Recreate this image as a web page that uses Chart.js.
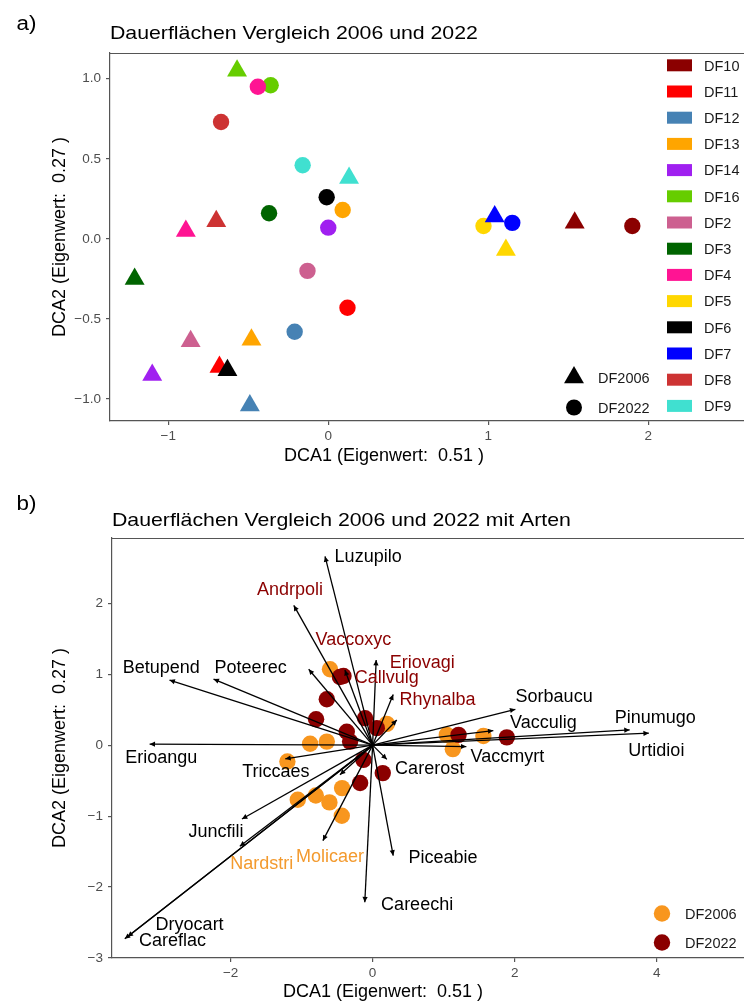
<!DOCTYPE html>
<html>
<head>
<meta charset="utf-8">
<script src="https://cdn.jsdelivr.net/npm/chart.js@4.4.1/dist/chart.umd.min.js"></script>
<style>
  html, body { margin: 0; padding: 0; background: #ffffff; }
  body { width: 744px; height: 1004px; overflow: hidden; position: relative; }
  canvas { position: absolute; left: 0; }
  #chartA { top: 0; }
  #chartB { top: 480px; }
</style>
</head>
<body>
<canvas id="chartA" width="744" height="480"></canvas>
<canvas id="chartB" width="744" height="524"></canvas>
<script>
// ---- Permanent plots (Dauerflächen), DCA site scores ----
const sites = ['DF10', 'DF11', 'DF12', 'DF13', 'DF14', 'DF16', 'DF2', 'DF3', 'DF4', 'DF5', 'DF6', 'DF7', 'DF8', 'DF9'];
const siteColors = ['#8B0000', '#FF0000', '#4682B4', '#FFA500', '#A020F0', '#66CD00', '#CD6090', '#006400', '#FF1493', '#FFD700', '#000000', '#0000FF', '#CD3333', '#40E0D0'];
const dca1_2006 = [1.54, -0.68, -0.49, -0.48, -1.10, -0.57, -0.86, -1.21, -0.89, 1.11, -0.63, 1.04, -0.70, 0.13];
const dca2_2006 = [0.10, -0.80, -1.04, -0.63, -0.85, 1.05, -0.64, -0.25, 0.05, -0.07, -0.82, 0.14, 0.11, 0.38];
const dca1_2022 = [1.90, 0.12, -0.21, 0.09, 0.00, -0.36, -0.13, -0.37, -0.44, 0.97, -0.01, 1.15, -0.67, -0.16];
const dca2_2022 = [0.08, -0.43, -0.58, 0.18, 0.07, 0.96, -0.20, 0.16, 0.95, 0.08, 0.26, 0.10, 0.73, 0.46];
const years = ['DF2006', 'DF2022'];

// ---- Site scores shown together with the species ----
const sp_dca1_2006 = [-0.60, -0.88, -0.645, -1.20, 0.20, 1.045, 1.13, 1.56, -1.054, -0.80, -0.608, -0.43, -0.434];
const sp_dca2_2006 = [1.07, 0.02, 0.05, -0.23, 0.30, 0.145, -0.056, 0.13, -0.77, -0.71, -0.807, -0.605, -0.994];
const sp_dca1_2022 = [-0.46, -0.41, -0.645, -0.796, -0.364, -0.317, -0.106, 0.059, -0.13, -0.176, 0.143, 1.21, 1.89];
const sp_dca2_2022 = [0.96, 0.975, 0.647, 0.366, 0.19, 0.05, 0.38, 0.24, -0.207, -0.534, -0.394, 0.145, 0.11];

// ---- Species vectors (arrow tips) and their label anchors ----
const species = ['Luzupilo', 'Andrpoli', 'Vaccoxyc', 'Callvulg', 'Eriovagi', 'Rhynalba', 'Sorbaucu', 'Vacculig', 'Pinumugo', 'Urtidioi', 'Vaccmyrt', 'Carerost', 'Piceabie', 'Careechi', 'Betupend', 'Poteerec', 'Erioangu', 'Triccaes', 'Juncfili', 'Nardstri', 'Molicaer', 'Dryocart', 'Careflac', '', ''];
const speciesDca1 = [-0.67, -1.11, -0.90, -0.39, 0.05, 0.29, 2.01, 1.70, 3.62, 3.89, 1.32, 0.20, 0.29, -0.11, -2.86, -2.24, -3.14, -1.23, -1.84, -1.87, -0.70, -3.45, -3.49, -0.46, 0.34];
const speciesDca2 = [2.66, 1.97, 1.07, 1.06, 1.20, 0.715, 0.506, 0.205, 0.215, 0.169, -0.02, -0.20, -1.557, -2.214, 0.918, 0.932, 0.014, -0.193, -1.041, -1.426, -1.346, -2.70, -2.729, -0.418, 0.355];
const speciesGroup = [0, 1, 1, 1, 1, 1, 0, 0, 0, 0, 0, 0, 0, 0, 0, 0, 0, 0, 0, 2, 2, 0, 0, 0, 0];
const labelDca1 = [-0.063, -1.162, -0.27, 0.20, 0.70, 0.915, 2.556, 2.406, 3.979, 3.996, 1.897, 0.803, 0.99, 0.627, -2.976, -1.718, -2.975, -1.362, -2.207, -1.561, -0.599, -2.577, -2.817, 0, 0];
const labelDca2 = [2.672, 2.204, 1.50, 0.962, 1.173, 0.657, 0.705, 0.329, 0.408, -0.06, -0.15, -0.319, -1.571, -2.239, 1.111, 1.111, -0.158, -0.361, -1.21, -1.66, -1.55, -2.513, -2.743, 0, 0];

// ---- Axis ticks ----
const xTicksA = [-1, 0, 1, 2];
const xTickLabelsA = ['\u22121', '0', '1', '2'];
const yTicksA = [-1, -0.5, 0, 0.5, 1];
const yTickLabelsA = ['\u22121.0', '\u22120.5', '0.0', '0.5', '1.0'];
const xTicksB = [-2, 0, 2, 4];
const xTickLabelsB = ['\u22122', '0', '2', '4'];
const yTicksB = [-3, -2, -1, 0, 1, 2];
const yTickLabelsB = ['\u22123', '\u22122', '\u22121', '0', '1', '2'];

const FONT = "'Liberation Sans', Arial, sans-serif";
const AXIS_COLOR = '#555555';
const TICK_TEXT = '#4D4D4D';
const ORANGE = '#F8961E';
const DARKRED = '#8B0000';
const groupColors = ['#000000', DARKRED, '#F39A2E'];

function drawText(ctx, text, x, y, o) {
  ctx.save();
  ctx.font = o.font;
  ctx.fillStyle = o.color || '#000';
  ctx.textBaseline = 'alphabetic';
  ctx.textAlign = o.align || 'left';
  ctx.translate(x, y);
  if (o.rotate) ctx.rotate(o.rotate);
  ctx.scale(o.sx || 1, 1);
  ctx.fillText(text, 0, 0);
  ctx.restore();
}

// Panel frame: tag, title, axis titles and the upper border line
const panelFrame = {
  id: 'panelFrame',
  afterDraw(chart, args, o) {
    const ctx = chart.ctx, a = chart.chartArea;
    ctx.save();
    ctx.strokeStyle = AXIS_COLOR;
    ctx.lineWidth = 1.2;
    ctx.beginPath();
    ctx.moveTo(a.left, a.top + 0.5);
    ctx.lineTo(a.right, a.top + 0.5);
    ctx.stroke();
    ctx.restore();
    drawText(ctx, o.tag, o.tagX, o.tagY, { font: '20px ' + FONT, sx: 1.12 });
    drawText(ctx, o.title, a.left, o.titleY, { font: '18.5px ' + FONT, sx: 1.15 });
    drawText(ctx, o.xTitle, o.xTitleX, o.xTitleY, { font: '18px ' + FONT, align: 'center' });
    drawText(ctx, o.yTitle, o.yTitleX, (a.top + a.bottom) / 2, { font: '18px ' + FONT, align: 'center', rotate: -Math.PI / 2 });
  }
};

// Legends drawn inside the plotting area
const siteLegend = {
  id: 'siteLegend',
  afterDraw(chart, args, o) {
    if (!o.enabled) return;
    const ctx = chart.ctx, a = chart.chartArea;
    sites.forEach((s, i) => {
      const cy = a.top + o.firstRow + i * o.rowGap;
      ctx.fillStyle = siteColors[i];
      ctx.fillRect(o.keyX, cy - 6, 25, 12);
      drawText(ctx, s, o.keyX + 37, cy + 5.2, { font: '14.5px ' + FONT, color: '#1A1A1A' });
    });
    years.forEach((label, i) => {
      const cy = a.top + o.shapeRow + i * 30;
      ctx.fillStyle = '#000';
      ctx.beginPath();
      if (i === 0) {
        const r = 11.5;
        ctx.moveTo(o.shapeX, cy - r);
        ctx.lineTo(o.shapeX + r * Math.sin(2 * Math.PI / 3), cy + r / 2);
        ctx.lineTo(o.shapeX - r * Math.sin(2 * Math.PI / 3), cy + r / 2);
        ctx.closePath();
      } else {
        ctx.arc(o.shapeX, cy, 8, 0, Math.PI * 2);
      }
      ctx.fill();
      drawText(ctx, label, o.shapeX + 24, cy + 5.2, { font: '14.5px ' + FONT, color: '#1A1A1A' });
    });
  }
};

const yearLegend = {
  id: 'yearLegend',
  afterDraw(chart, args, o) {
    if (!o.enabled) return;
    const ctx = chart.ctx, a = chart.chartArea;
    [ORANGE, DARKRED].forEach((c, i) => {
      const cy = a.top + o.firstRow + i * 29;
      ctx.fillStyle = c;
      ctx.beginPath();
      ctx.arc(o.x, cy, 8.2, 0, Math.PI * 2);
      ctx.fill();
      drawText(ctx, years[i], o.x + 23, cy + 5.2, { font: '14.5px ' + FONT, color: '#1A1A1A' });
    });
  }
};

// Arrow heads and species names for the vector datasets
const speciesArrows = {
  id: 'speciesArrows',
  afterDatasetsDraw(chart, args, o) {
    if (!o.enabled) return;
    const ctx = chart.ctx, xs = chart.scales.x, ys = chart.scales.y;
    const ox = xs.getPixelForValue(0), oy = ys.getPixelForValue(0);
    species.forEach((name, i) => {
      const tx = xs.getPixelForValue(speciesDca1[i]);
      const ty = ys.getPixelForValue(speciesDca2[i]);
      const ang = Math.atan2(ty - oy, tx - ox);
      const len = 6, half = 0.45;
      ctx.save();
      ctx.fillStyle = '#000';
      ctx.beginPath();
      ctx.moveTo(tx, ty);
      ctx.lineTo(tx - len * Math.cos(ang - half), ty - len * Math.sin(ang - half));
      ctx.lineTo(tx - len * Math.cos(ang + half), ty - len * Math.sin(ang + half));
      ctx.closePath();
      ctx.fill();
      ctx.restore();
      if (name) {
        const lx = xs.getPixelForValue(labelDca1[i]);
        const ly = ys.getPixelForValue(labelDca2[i]);
        drawText(ctx, name, lx, ly + 6.4, { font: '18px ' + FONT, align: 'center', color: groupColors[speciesGroup[i]] });
      }
    });
  }
};

function axisOptions(min, max, tickValues, tickLabels, fitSize, isX) {
  return {
    type: 'linear',
    min: min,
    max: max,
    afterBuildTicks(scale) { scale.ticks = tickValues.map(v => ({ value: v })); },
    afterFit(scale) {
      if (isX) scale.height = fitSize; else scale.width = fitSize;
      scale.paddingLeft = 0; scale.paddingRight = 0;
      scale.paddingTop = 0; scale.paddingBottom = 0;
    },
    ticks: {
      font: { family: FONT, size: 13.5 },
      color: TICK_TEXT,
      padding: isX ? 3 : 5,
      callback: (v, i) => tickLabels[i]
    },
    grid: { display: true, drawOnChartArea: false, drawTicks: true, tickLength: 4, color: AXIS_COLOR, lineWidth: 1.2 },
    border: { display: true, color: AXIS_COLOR, width: 1.2 }
  };
}

// ---- Panel a ----
const siteRows = [];
sites.forEach((s, i) => {
  siteRows.push({ x: dca1_2006[i], y: dca2_2006[i], site: i, year: 0 });
  siteRows.push({ x: dca1_2022[i], y: dca2_2022[i], site: i, year: 1 });
});

new Chart(document.getElementById('chartA'), {
  type: 'scatter',
  data: {
    datasets: [{
      label: 'Dauerflächen',
      data: siteRows,
      pointStyle: c => (c.raw && c.raw.year === 0 ? 'triangle' : 'circle'),
      pointRadius: c => (c.raw && c.raw.year === 0 ? 11.5 : 8.2),
      pointHoverRadius: c => (c.raw && c.raw.year === 0 ? 11.5 : 8.2),
      backgroundColor: c => (c.raw ? siteColors[c.raw.site] : '#000'),
      borderWidth: 0
    }]
  },
  options: {
    responsive: false,
    animation: false,
    devicePixelRatio: 1,
    events: [],
    layout: { autoPadding: false, padding: { top: 53, right: 0, bottom: 0, left: 0 } },
    plugins: {
      legend: { display: false },
      tooltip: { enabled: false },
      panelFrame: {
        tag: 'a)', tagX: 16.5, tagY: 29.5,
        title: 'Dauerflächen Vergleich 2006 und 2022', titleY: 39,
        xTitle: 'DCA1 (Eigenwert:  0.51 )', xTitleX: 384, xTitleY: 460.5,
        yTitle: 'DCA2 (Eigenwert:  0.27 )', yTitleX: 65
      },
      siteLegend: { enabled: true, keyX: 667, firstRow: 12.3, rowGap: 26.2, shapeX: 574, shapeRow: 324.5 },
      yearLegend: { enabled: false },
      speciesArrows: { enabled: false }
    },
    scales: {
      x: axisOptions(-1.364, 2.598, xTicksA, xTickLabelsA, 59, true),
      y: axisOptions(-1.1375, 1.161, yTicksA, yTickLabelsA, 110, false)
    }
  },
  plugins: [panelFrame, siteLegend, yearLegend, speciesArrows]
});

// ---- Panel b ----
const pts2006 = sp_dca1_2006.map((v, i) => ({ x: v, y: sp_dca2_2006[i] }));
const pts2022 = sp_dca1_2022.map((v, i) => ({ x: v, y: sp_dca2_2022[i] }));
const vectorSets = species.map((name, i) => ({
  type: 'line',
  label: name,
  data: [{ x: 0, y: 0 }, { x: speciesDca1[i], y: speciesDca2[i] }],
  borderColor: '#000000',
  borderWidth: 1.3,
  pointRadius: 0,
  fill: false,
  order: 0
}));

new Chart(document.getElementById('chartB'), {
  type: 'scatter',
  data: {
    datasets: [
      { label: years[0], data: pts2006, pointStyle: 'circle', pointRadius: 8.2, pointHoverRadius: 8.2, backgroundColor: ORANGE, borderWidth: 0, order: 2 },
      { label: years[1], data: pts2022, pointStyle: 'circle', pointRadius: 8.2, pointHoverRadius: 8.2, backgroundColor: DARKRED, borderWidth: 0, order: 1 }
    ].concat(vectorSets)
  },
  options: {
    responsive: false,
    animation: false,
    devicePixelRatio: 1,
    events: [],
    layout: { autoPadding: false, padding: { top: 58, right: 0, bottom: 0, left: 0 } },
    plugins: {
      legend: { display: false },
      tooltip: { enabled: false },
      panelFrame: {
        tag: 'b)', tagX: 16.5, tagY: 30,
        title: 'Dauerflächen Vergleich 2006 und 2022 mit Arten', titleY: 46,
        xTitle: 'DCA1 (Eigenwert:  0.51 )', xTitleX: 383, xTitleY: 517,
        yTitle: 'DCA2 (Eigenwert:  0.27 )', yTitleX: 65
      },
      siteLegend: { enabled: false },
      yearLegend: { enabled: true, x: 662, firstRow: 375.5 },
      speciesArrows: { enabled: true }
    },
    scales: {
      x: axisOptions(-3.67, 5.23, xTicksB, xTickLabelsB, 46, true),
      y: axisOptions(-3.0, 2.92, yTicksB, yTickLabelsB, 112, false)
    }
  },
  plugins: [panelFrame, siteLegend, yearLegend, speciesArrows]
});
</script>
</body>
</html>
